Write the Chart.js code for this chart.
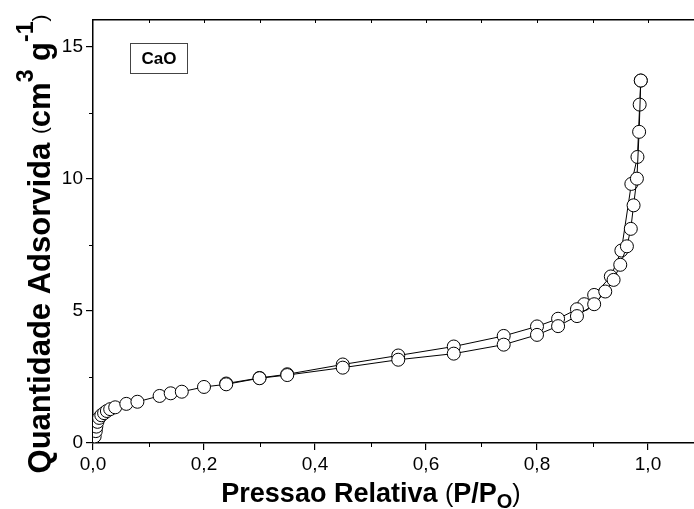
<!DOCTYPE html>
<html>
<head>
<meta charset="utf-8">
<script src="https://cdn.jsdelivr.net/npm/chart.js@4"></script>
<style>
  html, body { margin: 0; padding: 0; background: #fff; overflow: hidden; }
  #wrap { width: 720px; height: 509px; }
</style>
</head>
<body>
<div id="wrap"><canvas id="iso" width="720" height="509"></canvas></div>
<script>
// ---- dados (isoterma de N2, CaO) ----
// ramo de adsorcao
const pAds = [0.003, 0.005, 0.006, 0.008, 0.011, 0.015, 0.020, 0.025, 0.031, 0.040,
              0.060, 0.080, 0.120, 0.140, 0.160, 0.200, 0.240, 0.300, 0.350, 0.450,
              0.550, 0.650, 0.740, 0.800, 0.838, 0.872, 0.903, 0.923, 0.938, 0.950,
              0.962, 0.969, 0.974, 0.980, 0.984, 0.987];
const vAds = [0.25, 0.45, 0.62, 0.80, 0.95, 1.05, 1.13, 1.21, 1.28, 1.35,
              1.48, 1.56, 1.78, 1.88, 1.94, 2.12, 2.22, 2.45, 2.57, 2.85,
              3.15, 3.38, 3.72, 4.09, 4.42, 4.80, 5.25, 5.73, 6.17, 6.74,
              7.44, 8.10, 8.99, 10.00, 11.77, 13.71];
// ramo de dessorcao
const pDes = [0.987, 0.985, 0.981, 0.970, 0.952, 0.933, 0.903, 0.885, 0.872, 0.838,
              0.800, 0.740, 0.650, 0.550, 0.450, 0.350, 0.300, 0.240];
const vDes = [13.71, 12.80, 10.82, 9.80, 7.28, 6.30, 5.60, 5.25, 5.06, 4.70,
              4.41, 4.05, 3.65, 3.31, 2.97, 2.60, 2.46, 2.25];

const xTicks = [0.0, 0.2, 0.4, 0.6, 0.8, 1.0];
const xMinor = [0.1, 0.3, 0.5, 0.7, 0.9];
const yTicks = [0, 5, 10, 15];
const yMinor = [2.5, 7.5, 12.5];

const FONT = '"Liberation Sans", Arial, Helvetica, sans-serif';
Chart.defaults.font.family = FONT;
Chart.defaults.color = '#000';

function pts(xs, ys) { return xs.map((x, i) => ({ x: x, y: ys[i] })); }

const serie = {
  showLine: true,
  borderColor: '#000',
  borderWidth: 1,
  pointRadius: 6.5,
  pointBorderWidth: 1,
  pointBackgroundColor: '#fff',
  pointBorderColor: '#000',
  tension: 0
};

// escreve pedacos de texto em sequencia (para sub/sobrescrito)
function writeParts(ctx, parts, cx, cy) {
  let w = 0;
  parts.forEach(p => { ctx.font = p.f; w += ctx.measureText(p.t).width; });
  let x = cx - w / 2;
  parts.forEach(p => {
    ctx.font = p.f;
    ctx.fillText(p.t, x, cy + p.dy);
    x += ctx.measureText(p.t).width;
  });
}

// textos dos eixos + caixa "CaO" + ticks menores
const extras = {
  id: 'extras',
  afterDraw(chart) {
    const ctx = chart.ctx;
    const area = chart.chartArea;
    const xs = chart.scales.x;
    const ys = chart.scales.y;
    ctx.save();
    ctx.fillStyle = '#000';
    ctx.strokeStyle = '#000';
    ctx.lineWidth = 1;

    // ticks menores (fora) no eixo x e y
    xMinor.forEach(v => {
      const px = Math.round(xs.getPixelForValue(v)) + 0.5;
      ctx.beginPath();
      ctx.moveTo(px, area.bottom);
      ctx.lineTo(px, area.bottom + 4);
      ctx.stroke();
    });
    yMinor.forEach(v => {
      const py = Math.round(ys.getPixelForValue(v)) + 0.5;
      ctx.beginPath();
      ctx.moveTo(area.left, py);
      ctx.lineTo(area.left - 4, py);
      ctx.stroke();
    });
    // ticks pequenos para dentro no eixo superior
    xTicks.concat(xMinor).forEach(v => {
      if (v === 0) return;
      const px = Math.round(xs.getPixelForValue(v)) + 0.5;
      ctx.beginPath();
      ctx.moveTo(px, area.top);
      ctx.lineTo(px, area.top + 3);
      ctx.stroke();
    });

    ctx.textBaseline = 'alphabetic';
    // titulo eixo x
    writeParts(ctx, [
      { t: 'Pressao Relativa ', f: 'bold 27px ' + FONT, dy: 0 },
      { t: '(', f: '25px ' + FONT, dy: 0 },
      { t: 'P/P', f: 'bold 27px ' + FONT, dy: 0 },
      { t: 'O', f: 'bold 20px ' + FONT, dy: 6 },
      { t: ')', f: '25px ' + FONT, dy: 0 }
    ], 371, 502);

    // titulo eixo y (rotacionado)
    const b = 'bold 31px ' + FONT;
    const par = '21px ' + FONT;
    const sup = 'bold 23px ' + FONT;
    ctx.translate(50, 244);
    ctx.rotate(-Math.PI / 2);
    writeParts(ctx, [
      { t: 'Quantidade Adsorvida ', f: b, dy: 0 },
      { t: '(', f: par, dy: -3 },
      { t: 'cm', f: b, dy: 0 },
      { t: '3', f: sup, dy: -17 },
      { t: ' g', f: b, dy: 0 },
      { t: '-1', f: sup, dy: -17 },
      { t: ')', f: par, dy: -3 }
    ], 0, 0);
    ctx.restore();

    // caixa da legenda
    ctx.save();
    ctx.strokeStyle = '#444';
    ctx.lineWidth = 1;
    ctx.strokeRect(130.5, 43.5, 57, 30);
    ctx.fillStyle = '#000';
    ctx.font = 'bold 17px ' + FONT;
    ctx.textAlign = 'center';
    ctx.textBaseline = 'middle';
    ctx.fillText('CaO', 159, 59);
    ctx.restore();
  }
};

new Chart(document.getElementById('iso'), {
  type: 'scatter',
  data: {
    datasets: [
      Object.assign({ label: 'Adsorcao', data: pts(pAds, vAds) }, serie),
      Object.assign({ label: 'Dessorcao', data: pts(pDes, vDes) }, serie)
    ]
  },
  options: {
    responsive: false,
    animation: false,
    layout: { padding: { top: 0, right: 16.5, bottom: 0, left: 0 } },
    plugins: { legend: { display: false }, tooltip: { enabled: false } },
    scales: {
      x: {
        type: 'linear',
        position: 'bottom',
        min: 0,
        max: 1.1,
        afterFit(s) { s.height = 66; },
        border: { color: '#000', width: 1.5 },
        grid: { drawOnChartArea: false, drawTicks: true, tickLength: 7, color: '#000', lineWidth: 1.2 },
        ticks: {
          stepSize: 0.2,
          includeBounds: false,
          padding: 3,
          font: { size: 19 },
          color: '#000',
          maxRotation: 0,
          autoSkip: false,
          callback(v) {
            const hit = xTicks.find(t => Math.abs(t - v) < 1e-6);
            return hit === undefined ? '' : hit.toFixed(1).replace('.', ',');
          }
        }
      },
      x2: {
        type: 'linear',
        position: 'top',
        min: 0,
        max: 1.1,
        afterFit(s) { s.height = 20; },
        border: { color: '#000', width: 1.5 },
        grid: { drawOnChartArea: false, drawTicks: false },
        ticks: { display: false }
      },
      y: {
        type: 'linear',
        position: 'left',
        min: 0,
        max: 16,
        afterFit(s) { s.width = 93; },
        border: { color: '#000', width: 1.5 },
        grid: { drawOnChartArea: false, drawTicks: true, tickLength: 7, color: '#000', lineWidth: 1.2 },
        ticks: {
          stepSize: 5,
          includeBounds: false,
          padding: 3,
          font: { size: 19 },
          color: '#000',
          autoSkip: false,
          callback(v) {
            const hit = yTicks.find(t => Math.abs(t - v) < 1e-6);
            return hit === undefined ? '' : String(hit);
          }
        }
      }
    }
  },
  plugins: [extras]
});
</script>
</body>
</html>
